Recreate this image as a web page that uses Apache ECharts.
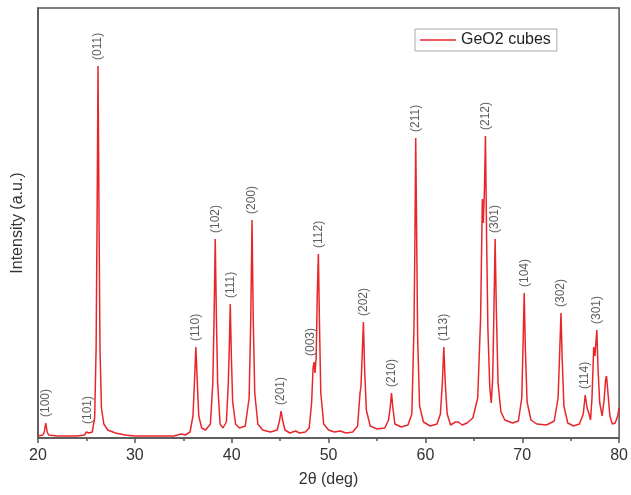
<!DOCTYPE html>
<html>
<head>
<meta charset="utf-8">
<script src="https://cdn.jsdelivr.net/npm/echarts@6/dist/echarts.min.js"></script>
<style>
  html, body { margin: 0; padding: 0; background: #fff; }
  #chart { width: 631px; height: 495px; }
</style>
</head>
<body>
<div id="chart"></div>
<script>
// XRD pattern (2theta in deg, intensity in a.u.)
const twoTheta = [
  20.0, 20.5, 20.65, 20.8, 20.95, 21.1, 22, 23, 24, 24.8, 25.0, 25.1, 25.25, 25.6, 25.85,
  26.0, 26.1, 26.2, 26.3, 26.4, 26.55, 26.8, 27.2, 28, 29, 30, 32, 34, 34.8, 35.2, 35.7,
  36.0, 36.15, 36.3, 36.45, 36.6, 36.9, 37.3, 37.8, 38.05, 38.18, 38.3, 38.42, 38.55, 38.8,
  39.1, 39.45, 39.65, 39.75, 39.85, 39.97, 40.1, 40.4, 40.8, 41.4, 41.8, 41.97, 42.1, 42.22,
  42.38, 42.7, 43.2, 44, 44.7, 44.95, 45.1, 45.25, 45.5, 46, 46.6, 47, 47.6, 48.0, 48.25,
  48.4, 48.5, 48.6, 48.72, 48.85, 48.95, 49.07, 49.2, 49.5, 50, 50.6, 51.2, 51.8, 52.5,
  53.0, 53.25, 53.35, 53.48, 53.6, 53.72, 53.9, 54.3, 55, 55.8, 56.2, 56.38, 56.5, 56.62,
  56.85, 57.5, 58.2, 58.6, 58.82, 58.92, 59.0, 59.1, 59.2, 59.4, 59.8, 60.5, 61.2, 61.55,
  61.75, 61.9, 62.05, 62.25, 62.6, 63.1, 63.4, 63.8, 64.3, 64.9, 65.4, 65.7, 65.88, 65.98,
  66.1, 66.2, 66.32, 66.45, 66.65, 66.8, 66.95, 67.08, 67.2, 67.32, 67.5, 67.8, 68.2, 69,
  69.6, 69.95, 70.1, 70.2, 70.32, 70.5, 70.9, 71.5, 72.5, 73.3, 73.7, 73.88, 74.0, 74.12,
  74.3, 74.7, 75.3, 75.9, 76.3, 76.5, 76.7, 76.9, 77.05, 77.2, 77.38, 77.5, 77.6, 77.7,
  77.82, 78.0, 78.25, 78.45, 78.6, 78.7, 78.85, 79.05, 79.3, 79.6, 79.85, 80
]
const intensity = [
  2, 3, 6, 15, 6, 3, 2, 2, 2, 3, 6, 8, 5, 6, 20,
  90, 220, 372, 220, 90, 30, 14, 8, 5, 3, 2, 2, 2, 4, 3, 6,
  22, 55, 91, 55, 22, 10, 8, 14, 55, 120, 199, 120, 55, 14,
  10, 16, 55, 90, 134, 80, 36, 14, 10, 12, 40, 120, 218, 120,
  45, 14, 8, 6, 8, 18, 27, 18, 8, 5, 7, 5, 6, 10, 35,
  70, 76, 65, 80, 150, 184, 110, 45, 14, 8, 6, 7, 5, 6,
  12, 45, 52, 85, 116, 70, 28, 12, 9, 10, 18, 32, 45, 32,
  14, 11, 13, 24, 110, 200, 300, 200, 100, 32, 16, 12, 14, 24,
  55, 91, 55, 24, 13, 16, 16, 13, 15, 20, 40, 120, 239, 215,
  250, 302, 200, 110, 50, 35, 60, 130, 199, 130, 55, 26, 18, 15,
  17, 40, 100, 145, 90, 36, 18, 14, 13, 17, 40, 90, 125, 80,
  32, 15, 12, 14, 24, 43, 30, 24, 18, 40, 91, 82, 95, 108,
  70, 35, 22, 38, 58, 62, 45, 22, 14, 15, 22, 30
]

// peak indexing
const peakHkl = ['(100)', '(101)', '(011)', '(110)', '(102)', '(111)', '(200)', '(201)', '(003)', '(112)',
  '(202)', '(210)', '(211)', '(113)', '(212)', '(301)', '(104)', '(302)', '(114)', '(301)']
const peakTheta = [20.8, 25.1, 26.2, 36.3, 38.3, 39.85, 42.1, 45.1, 48.2, 48.95,
  53.6, 56.5, 59.0, 61.9, 66.2, 67.2, 70.2, 74.0, 76.4, 77.7]
const peakInt = [15, 8, 372, 91, 199, 134, 218, 27, 76, 184,
  116, 45, 300, 91, 302, 199, 145, 125, 43, 108]

const xTicks = [20, 30, 40, 50, 60, 70, 80]

const chart = echarts.init(document.getElementById('chart'))
const font = 'Liberation Sans, Arial, sans-serif'

chart.setOption({
  animation: false,
  grid: {
    left: 38,
    right: 10,
    top: 8,
    bottom: 57,
    show: true,
    borderColor: '#555',
    borderWidth: 1.5
  },
  legend: {
    data: [{ name: 'GeO2 cubes', icon: 'rect' }],
    left: 415,
    top: 29,
    itemWidth: 36,
    itemHeight: 1.5,
    itemGap: 6,
    padding: [3, 6, 3, 5],
    borderColor: '#aaa',
    borderWidth: 1,
    textStyle: { fontFamily: font, fontSize: 16, color: '#222' }
  },
  xAxis: {
    type: 'value',
    min: xTicks[0],
    max: xTicks[xTicks.length - 1],
    interval: 10,
    name: '2θ (deg)',
    nameLocation: 'middle',
    nameGap: 34,
    nameTextStyle: { fontFamily: font, fontSize: 16, color: '#333' },
    axisLine: { show: true, lineStyle: { color: '#555', width: 1.5 } },
    axisTick: { show: true, length: 5, lineStyle: { color: '#555', width: 1.5 } },
    minorTick: { show: true, splitNumber: 2, length: 3, lineStyle: { color: '#555', width: 1.5 } },
    axisLabel: { fontFamily: font, fontSize: 16, color: '#333', margin: 10 },
    splitLine: { show: false }
  },
  yAxis: {
    type: 'value',
    min: 0,
    max: 430,
    name: 'Intensity (a.u.)',
    nameLocation: 'middle',
    nameGap: 12,
    nameTextStyle: { fontFamily: font, fontSize: 16, color: '#333' },
    axisLine: { show: true, lineStyle: { color: '#555', width: 1.5 } },
    axisTick: { show: false },
    axisLabel: { show: false },
    splitLine: { show: false }
  },
  series: [
    {
      name: 'GeO2 cubes',
      type: 'line',
      symbol: 'none',
      lineStyle: { color: '#e8262a', width: 1.5 },
      itemStyle: { color: '#e8262a' },
      data: twoTheta.map((t, i) => [t, intensity[i]])
    },
    {
      name: 'hkl',
      type: 'scatter',
      symbolSize: 0,
      silent: true,
      label: {
        show: true,
        position: 'top',
        rotate: 90,
        align: 'left',
        verticalAlign: 'middle',
        distance: 6,
        fontFamily: font,
        fontSize: 12,
        color: '#333',
        formatter: p => peakHkl[p.dataIndex]
      },
      data: peakTheta.map((t, i) => [t, peakInt[i]])
    }
  ]
})
</script>
</body>
</html>
